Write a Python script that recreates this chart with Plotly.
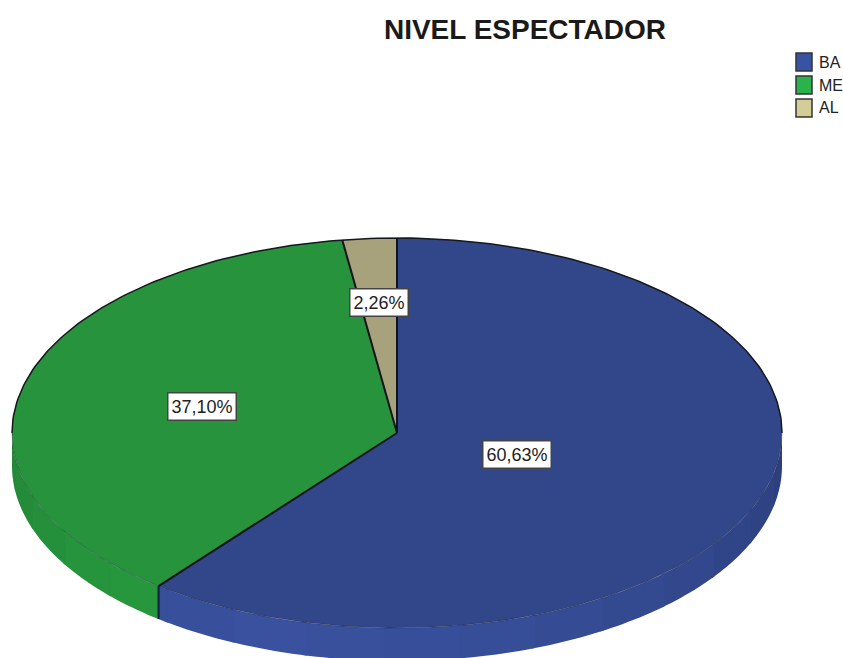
import numpy as np
import plotly.graph_objects as go

categories = ["BA", "ME", "AL"]
percents = [60.63, 37.10, 2.26]
percent_labels = ["60,63%", "37,10%", "2,26%"]

top_colors = ["#32478A", "#27933C", "#A8A27C"]
legend_colors = ["#3953A4", "#2AB34A", "#D3CE97"]
rim_light = [(58, 82, 160), (41, 160, 66), (168, 162, 124)]
rim_dark = [(44, 62, 124), (33, 122, 50), (130, 125, 95)]
label_radius = [0.33, 0.525, 0.67]

W, H = 843, 658
CX, CY, RX, RY, DEPTH = 397, 433, 385, 195, 33


def ell(deg):
    a = np.radians(deg)
    return np.sin(a), np.cos(a)


def arc(a0, a1, step=1.0):
    n = max(int(abs(a1 - a0) / step), 2)
    return np.linspace(a0, a1, n + 1)


def shade(i, deg):
    # rim is lightest towards the front left, darker at both ends
    t = np.clip(1 - abs(deg - 195) / 105, 0, 1) ** 0.8
    c = [rim_dark[i][k] + (rim_light[i][k] - rim_dark[i][k]) * t for k in range(3)]
    return "rgb(%d,%d,%d)" % tuple(c)


edges = np.concatenate([[0], np.cumsum(percents)]) * 3.6
edges[-1] = 360
d = DEPTH / RY

fig = go.Figure()

# rim, in bands, only the front half shows. Later bands overlap earlier ones to hide seams
for i in range(len(percents)):
    start, stop = max(edges[i], 90), min(edges[i + 1], 270)
    if start >= stop:
        continue
    cuts = list(np.arange(90, 271, 11.5))
    bands = [start] + [c for c in cuts if start < c < stop] + [stop]
    for b0, b1 in zip(bands[:-1], bands[1:]):
        sx, cy = ell(arc(b0, min(b1 + 0.6, stop)))
        fig.add_trace(go.Scatter(
            x=np.concatenate([sx, sx[::-1]]),
            y=np.concatenate([cy, cy[::-1] - d]),
            fill="toself", mode="none",
            fillcolor=shade(i, (b0 + b1) / 2), hoverinfo="skip", showlegend=False,
        ))

# rim divider between blue and green
sx, cy = ell(edges[1])
fig.add_trace(go.Scatter(x=[sx, sx], y=[cy, cy - d], mode="lines",
                         line=dict(color="#10203A", width=2), hoverinfo="skip", showlegend=False))

# top slices
for i, name in enumerate(categories):
    sx, cy = ell(arc(edges[i], edges[i + 1]))
    fig.add_trace(go.Scatter(
        x=np.concatenate([[0], sx, [0]]),
        y=np.concatenate([[0], cy, [0]]),
        fill="toself", mode="lines", line=dict(width=0), fillcolor=top_colors[i],
        name=name, text=percent_labels[i], hoverinfo="name+text", showlegend=False,
    ))

# outlines: dark on the back and the radii, faint along the front
sx, cy = ell(arc(-90, 90))
fig.add_trace(go.Scatter(x=sx, y=cy, mode="lines", line=dict(color="#15181F", width=1.5),
                         hoverinfo="skip", showlegend=False))
sx, cy = ell(arc(90, 270))
fig.add_trace(go.Scatter(x=sx, y=cy, mode="lines", line=dict(color="rgba(20,30,50,0.4)", width=1),
                         hoverinfo="skip", showlegend=False))
for e in edges[:-1]:
    sx, cy = ell(e)
    fig.add_trace(go.Scatter(x=[0, sx], y=[0, cy], mode="lines", line=dict(color="#10141C", width=2),
                             hoverinfo="skip", showlegend=False))

# percent labels
for i, text in enumerate(percent_labels):
    mid = (edges[i] + edges[i + 1]) / 2
    sx, cy = ell(mid)
    fig.add_annotation(x=sx * label_radius[i], y=cy * label_radius[i], text=text, showarrow=False,
                       font=dict(family="Liberation Sans", size=18, color="#222222"),
                       bgcolor="white", bordercolor="#444444", borderwidth=1.5, borderpad=3)

# legend sits hard against the right edge
for i, name in enumerate(categories):
    top = 53 + i * 23
    fig.add_shape(type="rect", xref="paper", yref="paper",
                  x0=796 / W, x1=812 / W, y0=1 - top / H, y1=1 - (top + 18) / H,
                  fillcolor=legend_colors[i], line=dict(color="#333333", width=1.5))
    fig.add_annotation(xref="paper", yref="paper", x=817 / W, y=1 - (top + 9) / H, text=name,
                       xanchor="left", yanchor="middle", showarrow=False,
                       font=dict(family="Liberation Sans", size=16, color="#222222"))

fig.update_layout(
    width=W, height=H, margin=dict(l=0, r=0, t=0, b=0),
    paper_bgcolor="white", plot_bgcolor="white", showlegend=False,
    title=dict(text="<b>NIVEL ESPECTADOR</b>", x=525 / W, xanchor="center", y=1 - 29 / H, yanchor="middle",
               font=dict(family="Liberation Sans", size=28, color="#1A1A1A")),
)
fig.update_xaxes(visible=False, range=[-CX / RX, (W - CX) / RX])
fig.update_yaxes(visible=False, range=[-(H - CY) / RY, CY / RY])

# default body margin would push the figure off the window
fig.write_html("out.html", config={"displayModeBar": False},
               post_script="document.body.style.margin='0';document.documentElement.style.overflow='hidden';")
